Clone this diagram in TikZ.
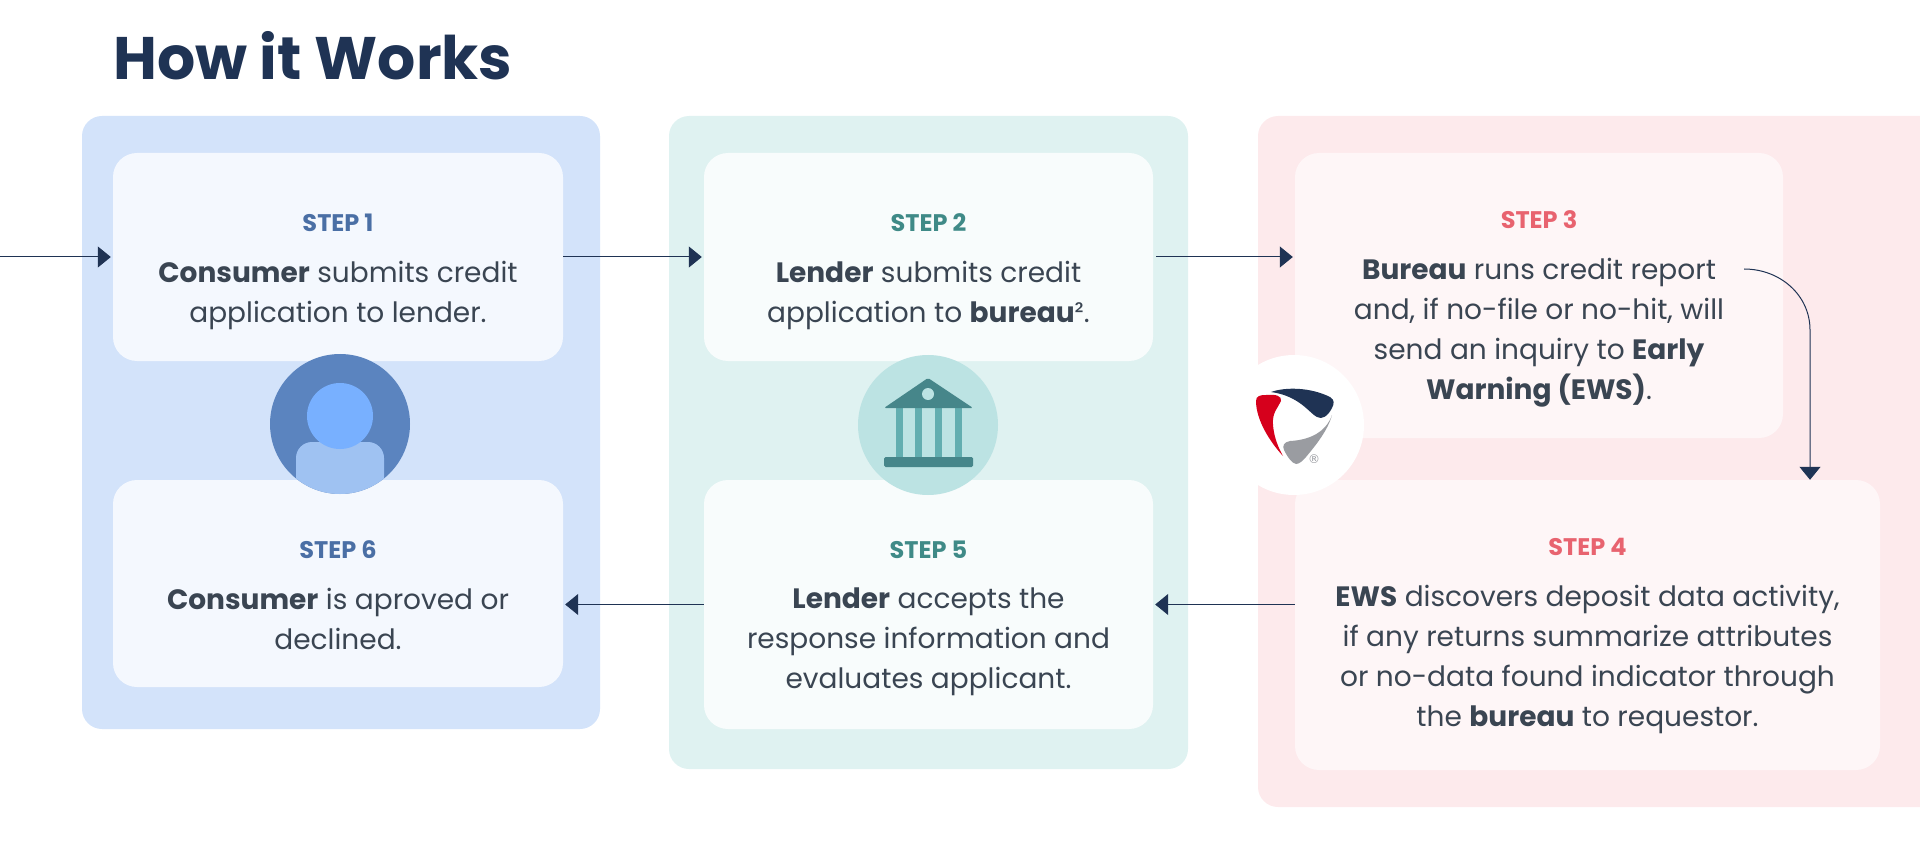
\documentclass[tikz,border=0pt]{standalone}
\usepackage{fontspec}
\setmainfont{Poppins}
\newfontfamily\regmarkfont{DejaVu Sans}
\usetikzlibrary{arrows.meta,positioning,calc}
\definecolor{navy}{HTML}{1F3354}
\definecolor{bodytext}{HTML}{3A4552}
\definecolor{blueback}{HTML}{D3E3FA}
\definecolor{bluecard}{HTML}{F4F8FE}
\definecolor{bluelabel}{HTML}{4A6FA5}
\definecolor{tealback}{HTML}{DFF2F1}
\definecolor{tealcard}{HTML}{F8FCFC}
\definecolor{teallabel}{HTML}{3F8A87}
\definecolor{redback}{HTML}{FDEAEC}
\definecolor{redcard}{HTML}{FEF6F7}
\definecolor{redlabel}{HTML}{E8636F}
\definecolor{personback}{HTML}{5B84BF}
\definecolor{personbody}{HTML}{9FC2F2}
\definecolor{personhead}{HTML}{78B0FF}
\definecolor{bankback}{HTML}{BCE3E3}
\definecolor{bankcolumn}{HTML}{62AEB0}
\definecolor{bankroof}{HTML}{46868A}
\definecolor{logored}{HTML}{D6001C}
\definecolor{logogray}{HTML}{9A9CA1}
\tikzset{
    panel/.style={rectangle, inner sep=0pt, rounded corners=20pt},
    card/.style={rectangle, inner sep=0pt, rounded corners=24pt},
    steplabel/.style={inner sep=0pt, font=\fontsize{24}{24}\selectfont\bfseries, anchor=north},
    steptext/.style={inner sep=0pt, text=bodytext, align=center, anchor=north, font=\fontsize{28}{40}\selectfont},
    flow/.style={-{Triangle[length=13pt,width=21pt]}, navy, line width=1pt},
    badge/.style={circle, inner sep=0pt, minimum size=140pt}
}
\begin{document}
\begin{tikzpicture}[x=1pt,y=-1pt]
        \useasboundingbox (0,0) rectangle (1920,850);

        % Title
        \node[inner sep=0pt, anchor=base west, text=navy, font=\fontsize{60}{60}\selectfont\bfseries] (title) at (113,80) {How it Works};

        % Panels
        \node[panel, fill=blueback, minimum width=518pt, minimum height=613pt] (panel1) at (341,422.5) {};
        \node[panel, fill=tealback, minimum width=519pt, minimum height=653pt] (panel2) at (928.5,442.5) {};
        \node[panel, fill=redback, minimum width=702pt, minimum height=691pt] (panel3) at (1609,461.5) {};

        % Cards
        \node[card, fill=bluecard, minimum width=450pt, minimum height=208pt] (card1) at (338,257) {};
        \node[card, fill=bluecard, minimum width=450pt, minimum height=207pt] (card6) at (338,583.5) {};
        \node[card, fill=tealcard, minimum width=449pt, minimum height=208pt] (card2) at (928.5,257) {};
        \node[card, fill=tealcard, minimum width=449pt, minimum height=249pt] (card5) at (928.5,604.5) {};
        \node[card, fill=redcard, minimum width=488pt, minimum height=285pt] (card3) at (1539,295.5) {};
        \node[card, fill=redcard, minimum width=585pt, minimum height=290pt] (card4) at (1587.5,625) {};

        % Step labels
        \node[steplabel, text=bluelabel, below=61pt of card1.north] (label1) {STEP 1};
        \node[steplabel, text=teallabel, below=61pt of card2.north] (label2) {STEP 2};
        \node[steplabel, text=redlabel, below=58pt of card3.north] (label3) {STEP 3};
        \node[steplabel, text=redlabel, below=58pt of card4.north] (label4) {STEP 4};
        \node[steplabel, text=teallabel, below=61pt of card5.north] (label5) {STEP 5};
        \node[steplabel, text=bluelabel, below=61pt of card6.north] (label6) {STEP 6};

        % Step texts
        \node[steptext, below=29pt of label1] (text1) {\textbf{Consumer} submits credit\\application to lender.};
        \node[steptext, below=29pt of label2] (text2) {\textbf{Lender} submits credit\\application to \textbf{bureau}².};
        \node[steptext, below=29pt of label3] (text3) {\textbf{Bureau} runs credit report\\and, if no-file or no-hit, will\\send an inquiry to \textbf{Early}\\\textbf{Warning (EWS)}.};
        \node[steptext, below=29pt of label4] (text4) {\textbf{EWS} discovers deposit data activity,\\if any returns summarize attributes\\or no-data found indicator through\\the \textbf{bureau} to requestor.};
        \node[steptext, below=29pt of label5] (text5) {\textbf{Lender} accepts the\\response information and\\evaluates applicant.};
        \node[steptext, below=29pt of label6] (text6) {\textbf{Consumer} is aproved or\\declined.};

        % Person badge
        \node[badge, fill=personback] (person) at (340,424) {};
        \begin{scope}
            \clip (340,424) circle (70);
            \fill[personbody, rounded corners=16pt] (296,520) rectangle (384,442);
        \end{scope}
        \node[circle, inner sep=0pt, minimum size=66pt, fill=personhead] (head) at (340,416) {};

        % Bank badge
        \node[badge, fill=bankback] (bank) at (928,425) {};
        \foreach \colx in {899,918.5,938.5,958.5}
            \fill[bankcolumn] (\colx-3.5,405) rectangle (\colx+3.5,458);
        \fill[bankroof, rounded corners=1.5pt] (884,408) -- (928,378) -- (973,408) -- cycle;
        \fill[bankback] (928,394) circle (6);
        \fill[bankroof, rounded corners=1.5pt] (884,457) rectangle (973,467);

        % Logo badge
        \node[badge, fill=white] (logo) at (1294,425) {};
        \fill[navy] (1271,392) .. controls (1285,387) and (1310,387) .. (1330,397) .. controls (1335,400) and (1334,404) .. (1332,408) .. controls (1328,416) and (1322,420) .. (1317,417) .. controls (1310,414) and (1300,396) .. (1271,392) -- cycle;
        \fill[logored] (1256,401) .. controls (1256,396) and (1260,395) .. (1266,395) .. controls (1276,394) and (1282,396) .. (1281,401) .. controls (1278,408) and (1272,412) .. (1273,425) .. controls (1274,438) and (1279,449) .. (1283,456) .. controls (1270,442) and (1256,420) .. (1256,401) -- cycle;
        \fill[logogray] (1332,415) .. controls (1326,432) and (1310,440) .. (1290,441) .. controls (1284,442) and (1282,446) .. (1284,450) .. controls (1288,458) and (1292,463) .. (1296,464) .. controls (1300,464) and (1303,460) .. (1306,457) .. controls (1316,445) and (1328,430) .. (1332,415) -- cycle;
        \node[inner sep=0pt, text=logogray, font=\fontsize{12}{12}\regmarkfont] (regmark) at (1314,459) {®};

        % Arrows
        \coordinate (start) at (0,257);
        \coordinate (bendstart) at (1744,269);
        \coordinate (bendend) at (1810,330);
        \draw[flow] (start) -- ([xshift=-2pt]card1.west);
        \draw[flow] (card1.east) -- ([xshift=-2pt]card2.west);
        \draw[flow] ([xshift=3pt]card2.east) -- ([xshift=-2pt]card3.west |- card2.east);
        \draw[flow] (bendstart) .. controls (1780,269) and (1810,295) .. (bendend) -- (bendend |- card4.north);
        \draw[flow] (card4.west |- card5.east) -- ([xshift=2pt]card5.east);
        \draw[flow] (card5.west) -- ([xshift=2pt]card6.east |- card5.west);
\end{tikzpicture}
\end{document}
